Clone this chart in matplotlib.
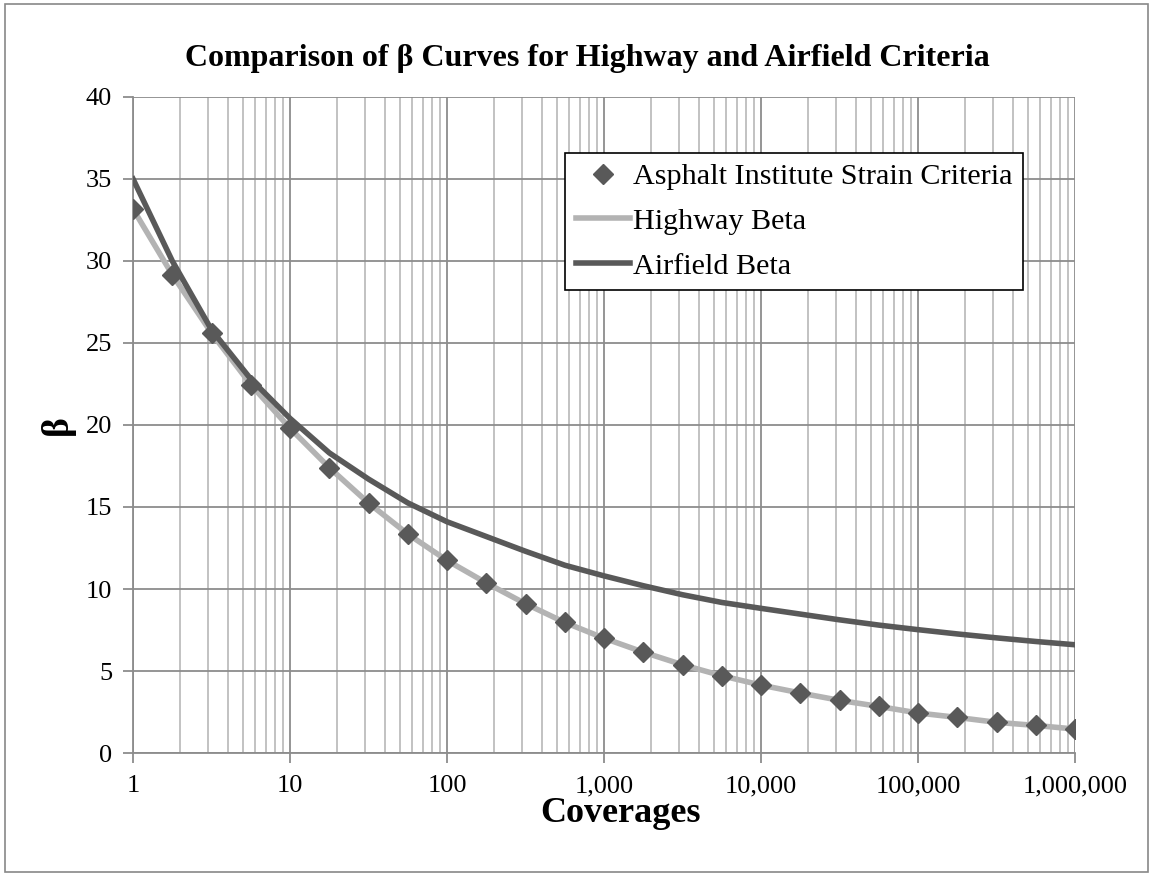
import numpy as np
import matplotlib.pyplot as plt
from matplotlib.ticker import FuncFormatter, NullFormatter
from matplotlib.patches import Rectangle

# coverages at quarter-decade steps, 1 to 1,000,000
coverages = [10 ** (k / 4) for k in range(25)]

asphalt_beta = [33.17, 29.16, 25.6, 22.46, 19.8, 17.4, 15.24, 13.35, 11.74, 10.37,
                9.1, 7.96, 7.0, 6.15, 5.38, 4.71, 4.14, 3.66, 3.21, 2.84,
                2.44, 2.17, 1.87, 1.68, 1.46]
highway_beta = asphalt_beta
airfield_beta = [35.0, 30.0, 25.8, 22.8, 20.4, 18.3, 16.7, 15.25, 14.1, 13.2,
                 12.3, 11.45, 10.8, 10.2, 9.65, 9.18, 8.82, 8.47, 8.12, 7.8,
                 7.52, 7.26, 7.02, 6.8, 6.6]

x_major = [1, 10, 100, 1000, 10000, 100000, 1000000]
x_minor = [d * m for d in x_major[:-1] for m in range(2, 10)]

plt.rcParams['font.family'] = ['Liberation Serif', 'DejaVu Serif']

fig = plt.figure(figsize=(11.53, 8.76), dpi=100)
ax = fig.add_axes([0.1154, 0.1404, 0.817, 0.7489])

# outer chart border
fig.patches.append(Rectangle((0.004, 0.004), 0.992, 0.992, transform=fig.transFigure,
                             fill=False, edgecolor='#888888', linewidth=1.2))

ax.plot(coverages, highway_beta, color='#b3b3b3', linewidth=4, label='Highway Beta', zorder=3)
ax.plot(coverages, airfield_beta, color='#595959', linewidth=4, label='Airfield Beta', zorder=4)
ax.plot(coverages, asphalt_beta, linestyle='none', marker='D', markersize=10,
        color='#595959', label='Asphalt Institute Strain Criteria', zorder=5)

ax.set_xscale('log')
ax.set_xlim(1, 1e6)
ax.set_ylim(0, 40)
ax.set_yticks(range(0, 41, 5))
ax.set_xticks(x_major)
ax.set_xticks(x_minor, minor=True)
ax.xaxis.set_minor_formatter(NullFormatter())
ax.xaxis.set_major_formatter(FuncFormatter(lambda v, p: f'{int(round(v)):,}'))

ax.grid(which='major', axis='both', color='#8c8c8c', linewidth=1.3)
ax.grid(which='minor', axis='x', color='#bdbdbd', linewidth=1.3)
ax.set_axisbelow(True)

for s in ['top', 'right']:
    ax.spines[s].set_visible(False)
for s in ['left', 'bottom']:
    ax.spines[s].set_color('#8c8c8c')
    ax.spines[s].set_linewidth(1.3)

ax.tick_params(axis='both', which='major', labelsize=19, length=7, color='#8c8c8c', width=1.3)
ax.tick_params(axis='x', which='major', pad=9)
ax.tick_params(axis='y', which='major', pad=8)
ax.tick_params(axis='x', which='minor', length=0)

fig.text(0.509, 0.933, 'Comparison of \u03b2 Curves for Highway and Airfield Criteria',
         fontsize=23, fontweight='bold', ha='center', va='center')
ax.set_xlabel('Coverages', fontsize=26, fontweight='bold', va='center')
ax.xaxis.set_label_coords(0.517, -0.092)
ax.set_ylabel('\u03b2', fontsize=27, fontweight='bold', labelpad=8)

handles, labels = ax.get_legend_handles_labels()
order = [2, 0, 1]
leg = ax.legend([handles[i] for i in order], [labels[i] for i in order],
                loc='upper left', bbox_to_anchor=(0.4585, 0.915), fontsize=21.7,
                frameon=True, fancybox=False, framealpha=1, edgecolor='black',
                handlelength=1.8, handletextpad=0.1, borderpad=0.35, labelspacing=0.58,
                borderaxespad=0)
leg.get_frame().set_linewidth(1.2)

fig.savefig('out.png', dpi=100)
